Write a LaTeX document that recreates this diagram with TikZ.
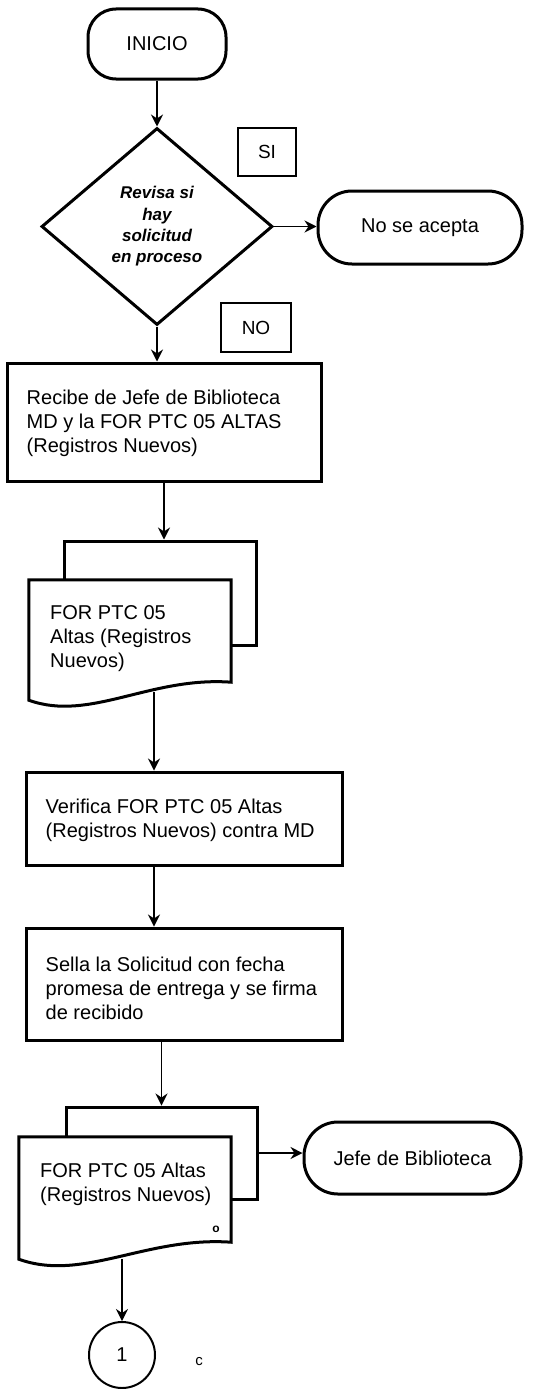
\documentclass[tikz,border=0pt]{standalone}
\usepackage{fontspec}
\setmainfont{Liberation Sans}
\usetikzlibrary{shapes.geometric,arrows.meta,calc}

\begin{document}
\begin{tikzpicture}[x=1pt,y=-1pt,
  every node/.style={font=\fontsize{20}{24}\selectfont},
  term/.style={draw,line width=3pt,inner sep=0pt},
  decision/.style={diamond,draw,line width=3pt,inner sep=0pt,align=center,
    minimum width=231,minimum height=197,
    font=\fontsize{17}{21.3}\selectfont\bfseries\itshape},
  tag/.style={draw,line width=1.2pt,inner sep=0pt,font=\fontsize{19}{22}\selectfont},
  proc/.style={draw,line width=3pt,inner sep=0pt},
  proctext/.style={align=left,inner sep=0pt,anchor=west},
  docback/.style={draw,line width=3pt,fill=white,inner sep=0pt},
  docarea/.style={inner sep=0pt},
  docline/.style={draw,line width=3pt,fill=white,line join=miter},
  doctext/.style={align=left,inner sep=0pt,anchor=west},
  conn/.style={line width=1.3pt,-{Stealth[length=12pt,width=12pt,inset=4pt]}},
  connector/.style={circle,draw,line width=2pt,minimum size=66,inner sep=0pt}
]
\useasboundingbox (0,0) rectangle (542,1389);

% start and decision
\node[term,rounded corners=28pt,minimum width=138,minimum height=70] (ini) at (157,44) {INICIO};
\node[decision] (dec) at (157,226.5) {Revisa si\\hay\\solicitud\\en proceso};
\node[tag,minimum width=58,minimum height=48] (si) at (267,152) {SI};
\node[tag,minimum width=70,minimum height=49] (no) at (256,327.5) {NO};
\node[term,rounded corners=34pt,minimum width=204,minimum height=73] (rej) at (420,227.5) {No se acepta};

% first process
\node[proc,minimum width=314,minimum height=118] (p1) at (164,422) {};
\node[proctext] (t1) at ($(p1.west)+(21,1)$)
  {Recibe de Jefe de Biblioteca\\MD y la FOR PTC 05 ALTAS\\(Registros Nuevos)};

% first document stack
\node[docback,minimum width=192,minimum height=104] (d1b) at (160,593) {};
\node[docarea,minimum width=202,minimum height=102] (d1f) at (130,631) {};
\draw[docline] (d1f.north west) -- (d1f.north east) -- (d1f.south east)
  .. controls ($(d1f.south east)+(-81,-6)$) and ($(d1f.south west)+(61,40)$) ..
  ($(d1f.south west)+(0,18)$) -- cycle;
\node[doctext] (d1) at (50,639) {FOR PTC 05\\Altas (Registros\\Nuevos)};

% verification and stamping
\node[proc,minimum width=316,minimum height=93] (p2) at (184,818.5) {};
\node[proctext] (t2) at ($(p2.west)+(21,2)$)
  {Verifica FOR PTC 05 Altas\\(Registros Nuevos) contra MD};
\node[proc,minimum width=316,minimum height=112] (p3) at (184,984) {};
\node[proctext] (t3) at ($(p3.west)+(21,4)$)
  {Sella la Solicitud con fecha\\promesa de entrega y se firma\\de recibido};

% second document stack
\node[docback,minimum width=191,minimum height=92] (d2b) at (161.5,1153) {};
\node[docarea,minimum width=212,minimum height=105] (d2f) at (125,1189.5) {};
\draw[docline] (d2f.north west) -- (d2f.north east) -- (d2f.south east)
  .. controls ($(d2f.south east)+(-85,-6)$) and ($(d2f.south west)+(64,40)$) ..
  ($(d2f.south west)+(0,17)$) -- cycle;
\node[doctext] (d2) at (40,1184) {FOR PTC 05 Altas\\(Registros Nuevos)};
\node[inner sep=0pt,font=\fontsize{12}{14}\selectfont\bfseries] (om) at (216,1229) {o};

\node[term,rounded corners=34pt,minimum width=217,minimum height=72] (jefe) at (412.5,1158) {Jefe de Biblioteca};

% off-page connector
\node[connector] (c1) at (122,1355) {1};
\node[inner sep=0pt,font=\fontsize{15}{17}\selectfont] (cm) at (199,1362) {c};

% connectors
\coordinate (d1out) at (154,692);
\coordinate (d2out) at (122,1259);
\draw[conn] (ini) -- (dec);
\draw[conn] (dec.east) -- (dec.east -| rej.west);
\draw[conn] (dec.south) -- (dec.south |- p1.north);
\draw[conn] (p1.south) -- (p1.south |- d1b.north);
\draw[conn] (d1out) -- (d1out |- p2.north);
\draw[conn] (d1out |- p2.south) -- (d1out |- p3.north);
\draw[conn] (p3.south -| d2b.north) -- (d2b.north);
\draw[conn] (d2b.east) -- (d2b.east -| jefe.west);
\draw[conn] (d2out) -- (c1.north);
\end{tikzpicture}
\end{document}
